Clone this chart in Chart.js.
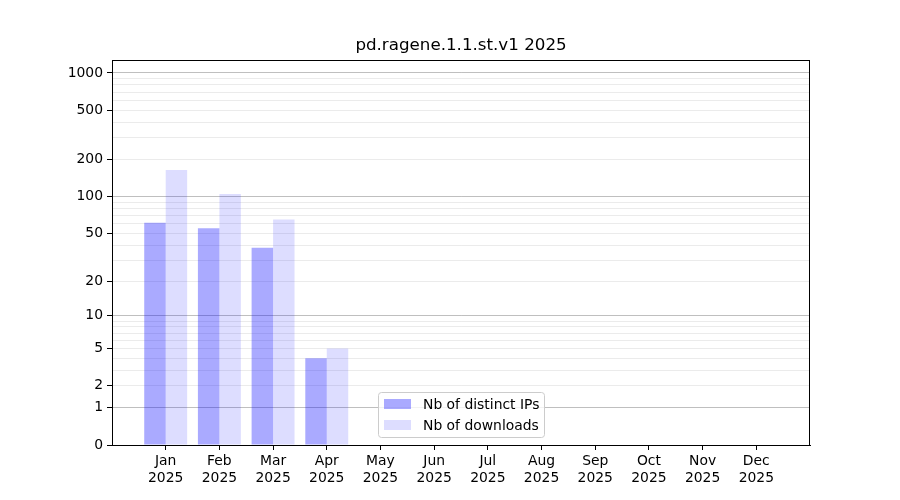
<!DOCTYPE html>
<html>
<head>
<meta charset="utf-8">
<script src="https://cdn.jsdelivr.net/npm/chart.js@4.4.1/dist/chart.umd.min.js"></script>
<style>
  html, body { margin: 0; padding: 0; background: #fff; }
  #wrap { width: 900px; height: 500px; }
</style>
</head>
<body>
<div id="wrap"><canvas id="statsChart" width="900" height="500"></canvas></div>
<script>
// data
const chartTitle = 'pd.ragene.1.1.st.v1 2025';
const months = ['Jan', 'Feb', 'Mar', 'Apr', 'May', 'Jun', 'Jul', 'Aug', 'Sep', 'Oct', 'Nov', 'Dec'];
const yearLabel = '2025';
const distinctIps = [61, 55, 38, 4, 0, 0, 0, 0, 0, 0, 0, 0];
const downloads = [164, 105, 65, 5, 0, 0, 0, 0, 0, 0, 0, 0];
const yTickLabels = [0, 1, 2, 5, 10, 20, 50, 100, 200, 500, 1000];
const yMajorLines = [1, 10, 100, 1000];

const FONT = 'DejaVu Sans';
const toAxis = v => Math.log10(1 + v); // y axis is log(1 + x)
const fromAxis = v => Math.round(Math.pow(10, v) - 1);

// minor grid lines 2..9, 20..90, 200..900
const yGridValues = [1];
for (let d = 1; d <= 100; d *= 10) {
  for (let m = 2; m <= 10; m++) yGridValues.push(m * d);
}
const allYTicks = [0].concat(yGridValues);

// one empty slot on each side so the axis runs from -1 to 12
const xLabels = [''].concat(months, ['']);
const pad = arr => [null].concat(arr.map(toAxis), [null]);

const ipsColor = 'rgba(0, 0, 255, 0.333)';
const dlColor = 'rgba(0, 0, 255, 0.133)';

Chart.defaults.color = '#000';
Chart.defaults.font.family = FONT;

const framePlugin = {
  id: 'frame',
  afterDatasetsDraw(chart) {
    const { ctx, chartArea: a } = chart;
    ctx.save();
    ctx.strokeStyle = '#000';
    ctx.lineWidth = 1;
    ctx.strokeRect(Math.round(a.left) + 0.5, Math.round(a.top) + 0.5,
      Math.round(a.right - a.left) - 1, Math.round(a.bottom - a.top));

    // title centred over the plot area
    ctx.fillStyle = '#000';
    ctx.font = '16.7px "' + FONT + '"';
    ctx.textAlign = 'center';
    ctx.textBaseline = 'middle';
    ctx.fillText(chartTitle, (a.left + a.right) / 2, 46);

    // legend, lower middle, like matplotlib "best"
    const x = 378.5, y = 392.5, w = 166, h = 45;
    ctx.beginPath();
    ctx.roundRect(x, y, w, h, 3);
    ctx.fillStyle = 'rgba(255,255,255,0.8)';
    ctx.fill();
    ctx.strokeStyle = '#cccccc';
    ctx.stroke();
    const items = [[ipsColor, 'Nb of distinct IPs'], [dlColor, 'Nb of downloads']];
    ctx.font = '13.9px "' + FONT + '"';
    ctx.textAlign = 'left';
    items.forEach(([c, t], i) => {
      const ry = 404 + i * 21;
      ctx.fillStyle = c;
      ctx.fillRect(384, ry - 5, 27, 10);
      ctx.fillStyle = '#000';
      ctx.fillText(t, 423, ry + 1);
    });
    ctx.restore();
  }
};

new Chart(document.getElementById('statsChart'), {
  type: 'bar',
  data: {
    labels: xLabels,
    datasets: [
      { label: 'Nb of distinct IPs', data: pad(distinctIps), backgroundColor: ipsColor,
        barPercentage: 1, categoryPercentage: 0.8 },
      { label: 'Nb of downloads', data: pad(downloads), backgroundColor: dlColor,
        barPercentage: 1, categoryPercentage: 0.8 }
    ]
  },
  options: {
    responsive: false,
    animation: false,
    layout: { padding: { left: 0, right: 90, top: 60, bottom: 0 } },
    plugins: {
      legend: { display: false },
      title: { display: false },
      tooltip: {
        callbacks: { label: c => c.dataset.label + ': ' + fromAxis(c.parsed.y) }
      }
    },
    scales: {
      x: {
        offset: false,
        grid: {
          offset: false,
          drawOnChartArea: false,
          tickLength: 5,
          tickColor: c => (c.index === 0 || c.index === xLabels.length - 1) ? 'rgba(0,0,0,0)' : '#000'
        },
        border: { color: '#000' },
        ticks: {
          autoSkip: false,
          maxRotation: 0,
          padding: 3,
          font: { size: 13.9 },
          callback: (v, i) => (i === 0 || i === xLabels.length - 1) ? '' : [months[i - 1], yearLabel]
        },
        afterFit: s => { s.height = 55; }
      },
      y: {
        min: 0,
        max: 3.105,
        afterBuildTicks: s => { s.ticks = allYTicks.map(v => ({ value: toAxis(v) })); },
        grid: {
          color: c => yMajorLines.includes(fromAxis(c.tick.value)) ? 'rgba(0,0,0,0.25)'
            : (fromAxis(c.tick.value) === 0 ? 'rgba(0,0,0,0)' : 'rgba(0,0,0,0.08)'),
          tickLength: 5,
          tickColor: c => yTickLabels.includes(fromAxis(c.tick.value)) ? '#000' : 'rgba(0,0,0,0)'
        },
        border: { color: '#000' },
        ticks: {
          autoSkip: false,
          padding: 4,
          font: { size: 13.9 },
          callback: v => yTickLabels.includes(fromAxis(v)) ? String(fromAxis(v)) : ''
        },
        afterFit: s => { s.width = 112; }
      }
    }
  },
  plugins: [framePlugin]
});
</script>
</body>
</html>
